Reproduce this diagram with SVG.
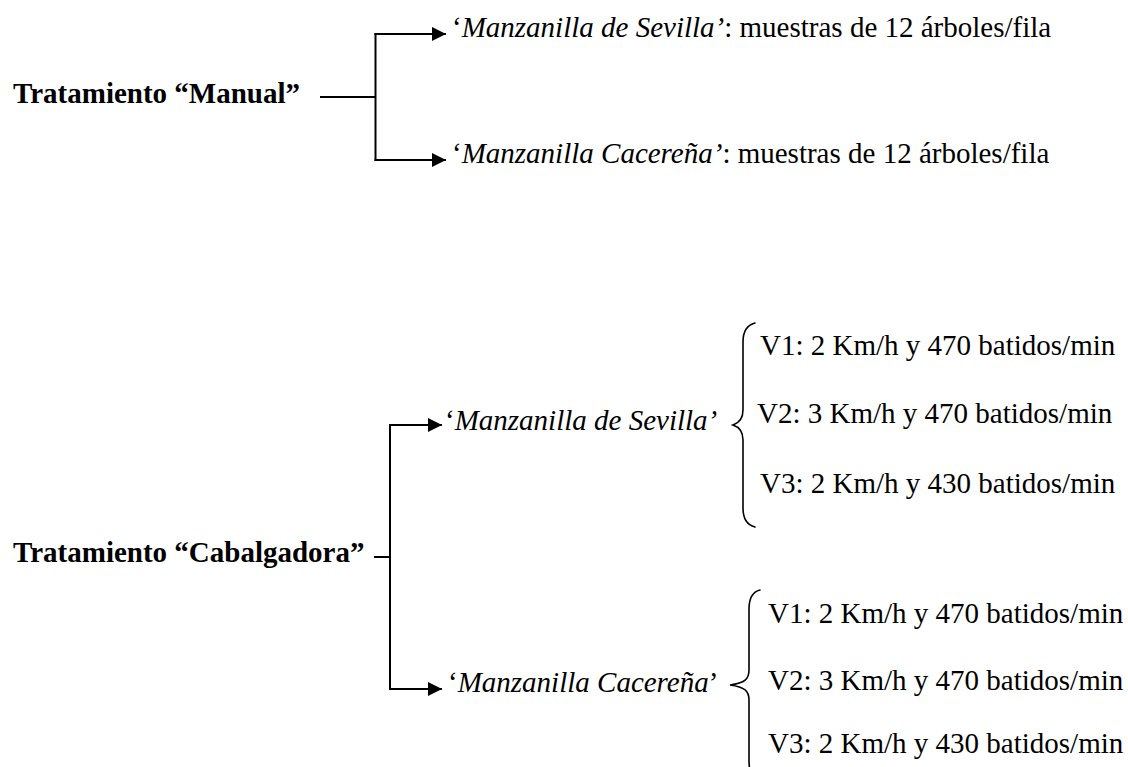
<svg xmlns="http://www.w3.org/2000/svg" width="1128" height="767" viewBox="0 0 1128 767">
  <style>
    text { font-family: "Liberation Serif", "Times New Roman", serif; font-size: 29px; fill: #000; }
    .title { font-weight: bold; }
    .it { font-style: italic; }
    .wire { fill: none; stroke: #000; stroke-width: 2; }
    .brace { fill: none; stroke: #000; stroke-width: 1.6; stroke-linecap: round; }
  </style>
  <defs>
    <marker id="head" markerUnits="userSpaceOnUse" markerWidth="15" markerHeight="14" refX="14" refY="7" orient="auto">
      <path d="M0,0 L14,7 L0,14 Z" fill="#000"/>
    </marker>
  </defs>

  <!-- connectors -->
  <g id="connectors">
    <path class="wire" d="M320,97 H375.5"/>
    <path class="wire" d="M375.5,33 V161"/>
    <path class="wire" d="M374.5,34 H446" marker-end="url(#head)"/>
    <path class="wire" d="M374.5,160 H446" marker-end="url(#head)"/>

    <path class="wire" d="M374,557 H390"/>
    <path class="wire" d="M390,424 V690"/>
    <path class="wire" d="M389,425 H442" marker-end="url(#head)"/>
    <path class="wire" d="M389,689 H442" marker-end="url(#head)"/>
  </g>

  <!-- manual treatment -->
  <g id="manual">
    <text class="title" x="13" y="103">Tratamiento “Manual”</text>
  </g>
  <g id="manual-sevilla">
    <text x="452" y="37">‘<tspan class="it">Manzanilla de Sevilla’</tspan>: muestras de 12 árboles/fila</text>
  </g>
  <g id="manual-cacerena">
    <text x="452" y="163">‘<tspan class="it">Manzanilla Cacereña’</tspan>: muestras de 12 árboles/fila</text>
  </g>

  <!-- cabalgadora treatment -->
  <g id="cabalgadora">
    <text class="title" x="13" y="562">Tratamiento “Cabalgadora”</text>
  </g>

  <g id="cab-sevilla">
    <text x="445" y="430">‘<tspan class="it">Manzanilla de Sevilla’</tspan></text>
    <path class="brace" d="M755,323 C747,325 743,331 743,342 V410 C743,419 739,423 733,425 C739,427 743,431 743,440 V508 C743,519 747,525 755,527"/>
    <text x="760" y="355">V1: 2 Km/h y 470 batidos/min</text>
    <text x="757" y="423">V2: 3 Km/h y 470 batidos/min</text>
    <text x="760" y="493">V3: 2 Km/h y 430 batidos/min</text>
  </g>

  <g id="cab-cacerena">
    <text x="448" y="692">‘<tspan class="it">Manzanilla Cacereña</tspan>’</text>
    <path class="brace" d="M760,590 C752,592 749,598 749,609 V670 C749,679 745,683 730,685 C745,687 749,691 749,700 V761 C749,772 752,778 760,780"/>
    <text x="768" y="623">V1: 2 Km/h y 470 batidos/min</text>
    <text x="768" y="690">V2: 3 Km/h y 470 batidos/min</text>
    <text x="768" y="753">V3: 2 Km/h y 430 batidos/min</text>
  </g>
</svg>
